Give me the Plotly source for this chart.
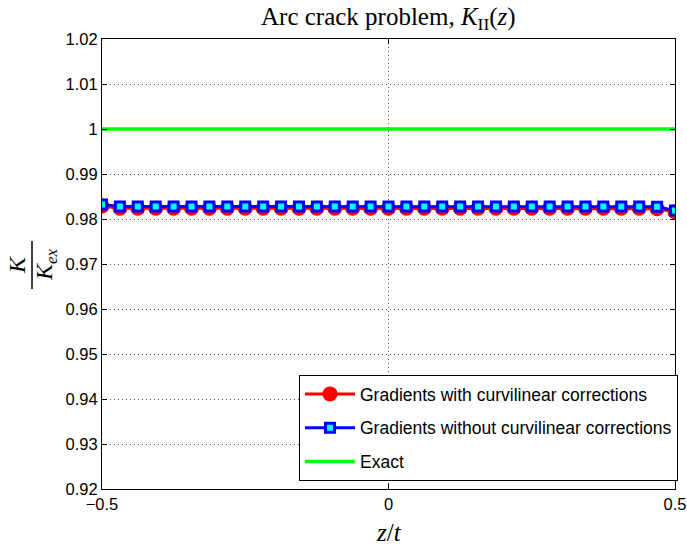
import plotly.graph_objects as go

# Normalised stress intensity factor K/K_ex along the crack front, z/t in [-0.5, 0.5]
z = [-0.5 + i / 32 for i in range(33)]

k_with_corr = [
    0.9829, 0.9824, 0.9824, 0.9824, 0.9824, 0.9824, 0.9824, 0.9824, 0.9824,
    0.9824, 0.9824, 0.9824, 0.9824, 0.9824, 0.9824, 0.9824, 0.9824, 0.9824,
    0.9824, 0.9824, 0.9824, 0.9824, 0.9824, 0.9824, 0.9824, 0.9824, 0.9824,
    0.9824, 0.9824, 0.9824, 0.9824, 0.9823, 0.9816,
]
k_without_corr = [
    0.9832, 0.9828, 0.9828, 0.9828, 0.9828, 0.9828, 0.9828, 0.9828, 0.9828,
    0.9828, 0.9828, 0.9828, 0.9828, 0.9828, 0.9828, 0.9828, 0.9828, 0.9828,
    0.9828, 0.9828, 0.9828, 0.9828, 0.9828, 0.9828, 0.9828, 0.9828, 0.9828,
    0.9828, 0.9828, 0.9828, 0.9828, 0.9827, 0.9819,
]
k_exact = [1.0] * len(z)

y_ticks = [0.92, 0.93, 0.94, 0.95, 0.96, 0.97, 0.98, 0.99, 1.00, 1.01, 1.02]
y_tick_text = ["0.92", "0.93", "0.94", "0.95", "0.96", "0.97", "0.98", "0.99", "1", "1.01", "1.02"]
x_ticks = [-0.5, 0, 0.5]
x_tick_text = ["\u22120.5", "0", "0.5"]

W, H = 687, 547
L, R, T, B = 102, 12, 39, 58
pw = W - L - R
ph = H - T - B


def px_x(p):
    """Pixel column -> paper x."""
    return (p - L) / pw


def px_y(p):
    """Pixel row -> paper y."""
    return (H - B - p) / ph


fig = go.Figure()
fig.add_trace(go.Scatter(
    x=z, y=k_with_corr, mode="lines+markers",
    name="Gradients with curvilinear corrections", legendgroup="a",
    line=dict(color="#ff0000", width=3),
    marker=dict(symbol="circle", size=15, color="#ff0000", line=dict(width=0)),
))
fig.add_trace(go.Scatter(
    x=z, y=k_without_corr, mode="lines+markers",
    name="Gradients without curvilinear corrections", legendgroup="b",
    line=dict(color="#0000ff", width=3),
    marker=dict(symbol="square", size=9, color="#00ffff",
                line=dict(color="#0000ff", width=3)),
))
fig.add_trace(go.Scatter(
    x=z, y=k_exact, mode="lines", name="Exact", legendgroup="c",
    line=dict(color="#00ff00", width=3.5),
))

axis_common = dict(
    showline=True, linecolor="black", linewidth=1, mirror="ticks",
    ticks="inside", ticklen=5, tickcolor="black",
    showgrid=True, gridcolor="#555555", gridwidth=1, griddash="1px,3px",
    zeroline=False, tickfont=dict(family="Liberation Sans", size=16.5, color="black"),
)
fig.update_xaxes(range=[-0.5, 0.5], tickvals=x_ticks, ticktext=x_tick_text, **axis_common)
fig.update_yaxes(range=[0.92, 1.02], tickvals=y_ticks, ticktext=y_tick_text, **axis_common)

serif = "Liberation Serif"
annotations = [
    dict(text="Arc crack problem, <i>K</i><sub>II</sub>(<i>z</i>)",
         x=0.5, y=px_y(18), xref="paper", yref="paper",
         xanchor="center", yanchor="middle",
         showarrow=False, font=dict(family=serif, size=25, color="black")),
    dict(text="<i>z</i>/<i>t</i>", x=0.5, y=px_y(532), xref="paper", yref="paper",
         xanchor="center", yanchor="middle", showarrow=False,
         font=dict(family=serif, size=25, color="black")),
    dict(text="<i>K</i>", x=px_x(17), y=px_y(265), xref="paper", yref="paper",
         xanchor="center", yanchor="middle",
         textangle=-90, showarrow=False, font=dict(family=serif, size=24, color="black")),
    dict(text="<i>K<sub>ex</sub></i>", x=px_x(46), y=px_y(265),
         xref="paper", yref="paper", xanchor="center", yanchor="middle",
         textangle=-90, showarrow=False,
         font=dict(family=serif, size=24, color="black")),
]
shapes = [
    dict(type="line", xref="paper", yref="paper",
         x0=px_x(32), x1=px_x(32), y0=px_y(241), y1=px_y(289),
         line=dict(color="black", width=1.5)),
]

fig.update_layout(
    width=W, height=H,
    margin=dict(l=L, r=R, t=T, b=B, autoexpand=False),
    paper_bgcolor="white", plot_bgcolor="white",
    showlegend=True,
    legend=dict(x=px_x(678), y=px_y(375), xanchor="right", yanchor="top",
                bgcolor="white", bordercolor="black", borderwidth=1,
                font=dict(family="Liberation Sans", size=17.5, color="black"),
                tracegroupgap=8, itemwidth=50),
    annotations=annotations, shapes=shapes,
)

fig.write_html("out.html")
